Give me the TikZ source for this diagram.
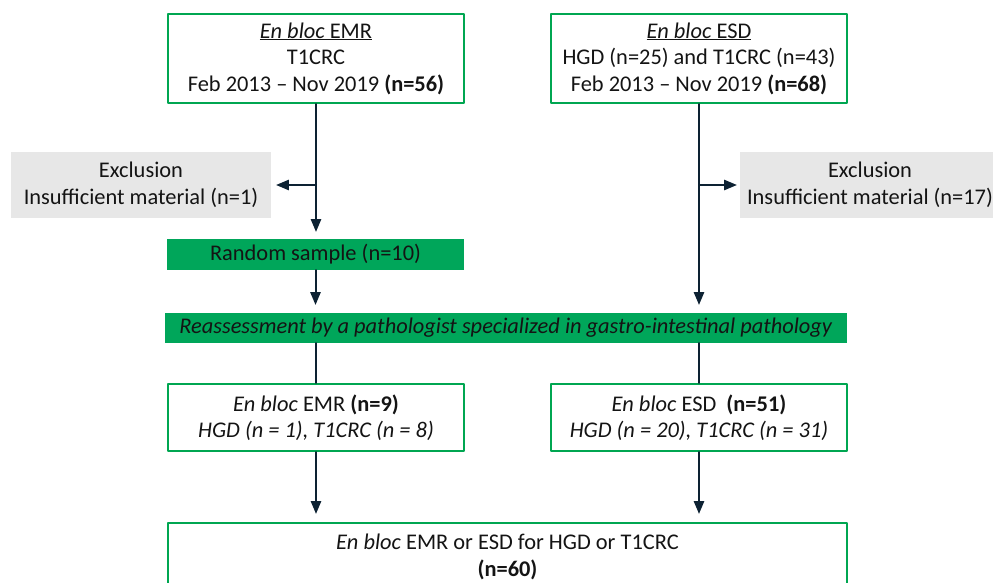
\documentclass[tikz,border=0pt]{standalone}
\usepackage{fontspec}
\setmainfont{Carlito}
\usepackage{xcolor}
\usetikzlibrary{arrows}
\definecolor{boxgreen}{RGB}{0,166,81}
\definecolor{barfill}{RGB}{0,166,90}
\definecolor{exclgray}{RGB}{231,231,231}
\definecolor{linenavy}{RGB}{13,34,51}
\definecolor{txtgray}{RGB}{20,20,20}
\begin{document}
\begin{tikzpicture}[line cap=round,line join=round,>=triangle 45,x=1pt,y=-1pt,
  font=\fontsize{22.4}{26.5}\selectfont,text=txtgray,
  gbox/.style={draw=boxgreen,line width=2.4pt,fill=white,align=center,inner sep=0pt},
  gbar/.style={fill=barfill,align=center,inner sep=0pt},
  exbox/.style={fill=exclgray,align=center,inner sep=0pt},
  flow/.style={draw=linenavy,line width=2pt}]
\clip (0,0) rectangle (993,583);
% top row
\node[gbox,minimum width=296,minimum height=89] (emr) at (316,58.5)
  {\underline{\textit{En bloc} EMR}\\T1CRC\\Feb 2013 -- Nov 2019 \textbf{(n=56)}};
\node[gbox,minimum width=296,minimum height=89] (esd) at (699,58.5)
  {\underline{\textit{En bloc} ESD}\\HGD (n=25) and T1CRC (n=43)\\Feb 2013 -- Nov 2019 \textbf{(n=68)}};
% exclusions
\node[exbox,minimum width=260,minimum height=66] (exl) at (141,185)
  {Exclusion\\Insufficient material (n=1)};
\node[exbox,minimum width=260,minimum height=66] (exr) at (870,185)
  {Exclusion\\Insufficient material (n=17)};
\node[gbar,minimum width=297,minimum height=31] (rand) at (315.5,254.5) {Random sample (n=10)};
\node[gbar,minimum width=682,minimum height=30] (reass) at (506,328)
  {\textit{Reassessment by a pathologist specialized in gastro-intestinal pathology}};
% second row
\node[gbox,minimum width=296,minimum height=67] (emrb) at (316,417.5)
  {\textit{En bloc} EMR \textbf{(n=9)}\\\textit{HGD (n = 1), T1CRC (n = 8)}};
\node[gbox,minimum width=296,minimum height=67] (esdb) at (699,417.5)
  {\textit{En bloc} ESD\ \ \textbf{(n=51)}\\\textit{HGD (n = 20), T1CRC (n = 31)}};
\node[gbox,minimum width=679,minimum height=68] (all) at (507.5,557)
  {\textit{En bloc} EMR or ESD for HGD or T1CRC\\\textbf{(n=60)}};
% connectors
\draw[flow,->,shorten >=7pt] (emr.south) -- (rand.north -| emr.south);
\draw[flow,->,shorten >=5pt] (emr.south |- exl.east) -- (exl.east);
\draw[flow,->,shorten >=8pt] (rand.south) -- (reass.north -| rand.south);
\draw[flow,->,shorten >=8pt] (esd.south) -- (reass.north -| esd.south);
\draw[flow,->,shorten >=3pt] (esd.south |- exr.west) -- (exr.west);
\draw[flow] (reass.south -| emrb.north) -- (emrb.north);
\draw[flow] (reass.south -| esdb.north) -- (esdb.north);
\draw[flow,->,shorten >=8pt] (emrb.south) -- (all.north -| emrb.south);
\draw[flow,->,shorten >=8pt] (esdb.south) -- (all.north -| esdb.south);
\end{tikzpicture}
\end{document}
